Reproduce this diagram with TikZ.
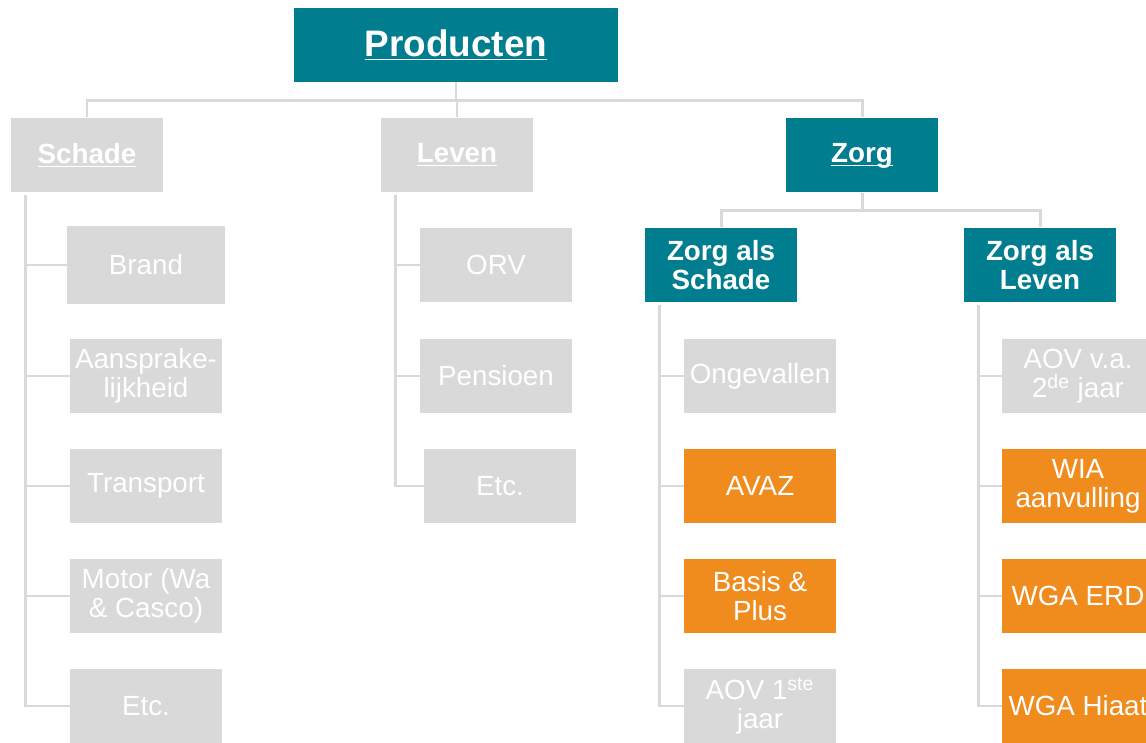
\documentclass[tikz,border=0pt]{standalone}
\usepackage{fontspec}
\setmainfont{Liberation Sans}
\usepackage{tikz}
\definecolor{petrol}{RGB}{0,125,143}
\definecolor{oranje}{RGB}{240,139,29}
\definecolor{grijs}{RGB}{217,217,217}

\begin{document}
\begin{tikzpicture}[x=0.02cm,y=-0.02cm]
						\tikzstyle{box}=[rectangle,text=white,align=center,inner sep=0pt,minimum width=3.04cm,minimum height=1.5cm,font=\fontsize{15.8}{16.6}\selectfont]
						\tikzstyle{head}=[box,fill=petrol,font=\fontsize{15.8}{16.2}\selectfont\bfseries]
						\tikzstyle{gray}=[box,fill=grijs]
						\tikzstyle{extra}=[box,fill=oranje]
						\tikzstyle{conn}=[draw=grijs,line width=1.7pt]
						\useasboundingbox (0,0) rectangle (1146,743);
						\node[head,minimum width=6.5cm,minimum height=1.48cm,font=\fontsize{21}{24}\selectfont\bfseries](prod) at (456,45) {\underline{Producten}};
						\node[gray,font=\fontsize{15.8}{16.2}\selectfont\bfseries](schade) at (87,155) {\underline{Schade}};
						\node[gray,font=\fontsize{15.8}{16.2}\selectfont\bfseries](leven) at (457,155) {\underline{Leven}};
						\node[head](zorg) at (862,155) {\underline{\raisebox{0pt}[\height][0pt]{Zorg}}};
						% schade
						\node[gray,minimum width=3.16cm,minimum height=1.58cm](brand) at (146,265) {Brand};
						\node[gray](aans) at (146,376) {Aansprake-\\lijkheid};
						\node[gray](transport) at (146,486) {Transport};
						\node[gray](motor) at (146,596) {Motor (Wa\\\& Casco)};
						\node[gray](setc) at (146,706) {Etc.};
						% leven
						\node[gray](orv) at (496,265) {ORV};
						\node[gray](pens) at (496,376) {Pensioen};
						\node[gray](letc) at (500,486) {Etc.};
						% zorg
						\node[head](zas) at (721,265) {Zorg als\\Schade};
						\node[head](zal) at (1040,265) {Zorg als\\Leven};
						\node[gray](ong) at (760,376) {Ongevallen};
						\node[extra](avaz) at (760,486) {AVAZ};
						\node[extra](basis) at (760,596) {Basis \&\\Plus};
						\node[gray](aov1) at (760,706) {AOV 1\textsuperscript{ste}\\jaar};
						\node[gray](aov2) at (1078,376) {AOV v.a.\\2\textsuperscript{de} jaar};
						\node[extra](wia) at (1078,486) {WIA\\aanvulling};
						\node[extra](erd) at (1078,596) {WGA ERD};
						\node[extra](hiaat) at (1078,706) {WGA Hiaat};
						% connectors
						\foreach \c in {schade,leven,zorg}
							\draw[conn] (prod.south) -- ++(0,18) -| (\c.north);
						\foreach \c in {zas,zal}
							\draw[conn] (zorg.south) -- ++(0,17.5) -| (\c.north);
						\foreach \c in {brand,aans,transport,motor,setc}
							\draw[conn] ([xshift=0.3cm,yshift=-1pt]schade.south west) |- (\c.west);
						\foreach \c in {orv,pens,letc}
							\draw[conn] ([xshift=0.3cm,yshift=-1pt]leven.south west) |- (\c.west);
						\foreach \c in {ong,avaz,basis,aov1}
							\draw[conn] ([xshift=0.3cm,yshift=-1pt]zas.south west) |- (\c.west);
						\foreach \c in {aov2,wia,erd,hiaat}
							\draw[conn] ([xshift=0.3cm,yshift=-1pt]zal.south west) |- (\c.west);
					\end{tikzpicture}
\end{document}
